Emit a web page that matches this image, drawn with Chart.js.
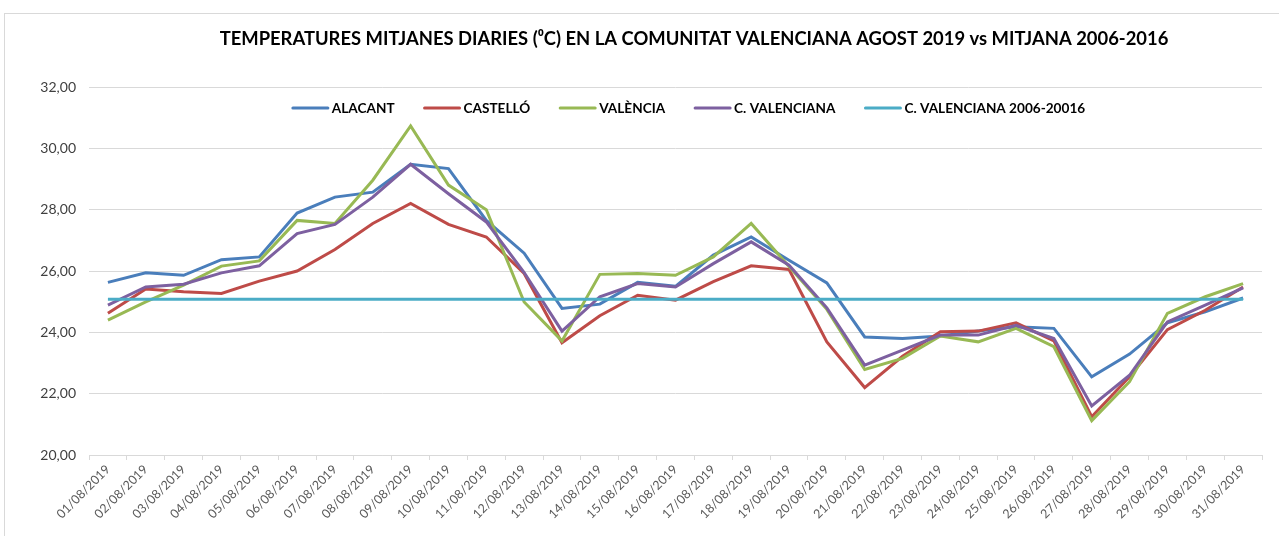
<!DOCTYPE html>
<html>
<head>
<meta charset="utf-8">
<script src="https://cdn.jsdelivr.net/npm/chart.js@4/dist/chart.umd.min.js"></script>
<style>
  html, body { margin: 0; padding: 0; background: #fff; overflow: hidden; width: 1279px; height: 536px; }
  #frame { position: absolute; left: 4px; top: 13px; width: 1378px; height: 560px; border: 1px solid #d9d9d9; background: #fff; }
  canvas { display: block; }
</style>
</head>
<body>
<div id="frame"><canvas id="chart" width="1378" height="560"></canvas></div>
<script>
const DAYS = [
  '01/08/2019', '02/08/2019', '03/08/2019', '04/08/2019', '05/08/2019', '06/08/2019', '07/08/2019', '08/08/2019',
  '09/08/2019', '10/08/2019', '11/08/2019', '12/08/2019', '13/08/2019', '14/08/2019', '15/08/2019', '16/08/2019',
  '17/08/2019', '18/08/2019', '19/08/2019', '20/08/2019', '21/08/2019', '22/08/2019', '23/08/2019', '24/08/2019',
  '25/08/2019', '26/08/2019', '27/08/2019', '28/08/2019', '29/08/2019', '30/08/2019', '31/08/2019',
];

const ALACANT = [25.63, 25.94, 25.86, 26.37, 26.46, 27.89, 28.41, 28.57, 29.48, 29.34, 27.65, 26.58, 24.78, 24.92, 25.63, 25.50,
  26.52, 27.11, 26.35, 25.61, 23.85, 23.80, 23.88, 24.04, 24.18, 24.13, 22.55, 23.29, 24.31, 24.67, 25.12];
const CASTELLO = [24.62, 25.41, 25.32, 25.27, 25.67, 26.00, 26.70, 27.55, 28.20, 27.52, 27.11, 25.92, 23.66, 24.54, 25.21, 25.05,
  25.65, 26.17, 26.05, 23.69, 22.20, 23.22, 24.02, 24.04, 24.31, 23.72, 21.25, 22.55, 24.09, 24.72, 25.48];
const VALENCIA = [24.40, 24.99, 25.54, 26.16, 26.33, 27.65, 27.55, 28.96, 30.73, 28.80, 28.00, 24.99, 23.72, 25.89, 25.92, 25.86,
  26.46, 27.55, 26.15, 24.75, 22.79, 23.15, 23.88, 23.69, 24.13, 23.53, 21.12, 22.39, 24.62, 25.16, 25.59];
const CVALENCIANA = [24.89, 25.48, 25.57, 25.94, 26.17, 27.22, 27.52, 28.41, 29.48, 28.52, 27.60, 25.95, 24.04, 25.16, 25.59, 25.48,
  26.24, 26.95, 26.19, 24.80, 22.93, 23.42, 23.91, 23.91, 24.23, 23.80, 21.60, 22.60, 24.34, 24.89, 25.45];
const MITJANA_2006_2016 = DAYS.map(() => 25.08);

const Y_MIN = 20;
const Y_MAX = 32;
const Y_STEP = 2;

const TITLE = 'TEMPERATURES MITJANES DIARIES (\u2070C) EN LA COMUNITAT VALENCIANA AGOST 2019 vs MITJANA 2006-2016';

const SERIES = [
  { label: 'ALACANT', data: ALACANT, color: '#4a7ebb' },
  { label: 'CASTELLÓ', data: CASTELLO, color: '#be4b48' },
  { label: 'VALÈNCIA', data: VALENCIA, color: '#98b954' },
  { label: 'C. VALENCIANA', data: CVALENCIANA, color: '#7d60a0' },
  { label: 'C. VALENCIANA 2006-20016', data: MITJANA_2006_2016, color: '#4bacc6' },
];

const FONT = 'Lato, Calibri, Carlito, sans-serif';

// titol centrat en tot el marc i llegenda dins l'area del grafic, com a l'Excel
const excelDecor = {
  id: 'excelDecor',
  afterDraw(chart) {
    const ctx = chart.ctx;
    ctx.save();
    ctx.fillStyle = '#000';
    ctx.textBaseline = 'middle';
    ctx.textAlign = 'center';
    ctx.font = 'bold 18.4px ' + FONT;
    ctx.fillText(TITLE, chart.width / 2, 25);

    const y = 94;
    const lineLen = 35;
    const gap = 4;
    const between = 30;
    ctx.font = 'bold 13.6px ' + FONT;
    const widths = chart.data.datasets.map((d) => lineLen + gap + ctx.measureText(d.label).width);
    const total = widths.reduce((a, b) => a + b, 0) + between * (widths.length - 1);
    let x = 684 - total / 2;
    chart.data.datasets.forEach((d, i) => {
      ctx.strokeStyle = d.borderColor;
      ctx.lineWidth = 3;
      ctx.lineCap = 'round';
      ctx.beginPath();
      ctx.moveTo(x, y);
      ctx.lineTo(x + lineLen, y);
      ctx.stroke();
      ctx.textAlign = 'left';
      ctx.fillText(d.label, x + lineLen + gap, y + 1);
      x += widths[i] + between;
    });
    ctx.restore();
  },
};

new Chart(document.getElementById('chart'), {
  type: 'line',
  data: {
    labels: DAYS,
    datasets: SERIES.map((s, i) => ({
      label: s.label,
      data: s.data,
      borderColor: s.color,
      backgroundColor: s.color,
      borderWidth: 3,
      pointRadius: 0,
      tension: 0,
      order: SERIES.length - i,
    })),
  },
  options: {
    responsive: false,
    animation: false,
    layout: { padding: { left: 0, right: 121, top: 73, bottom: 0 } },
    plugins: {
      legend: { display: false },
      tooltip: { enabled: false },
      title: { display: false },
    },
    scales: {
      x: {
        offset: true,
        grid: { offset: true, drawOnChartArea: false, drawTicks: true, tickLength: 5, color: '#d9d9d9' },
        border: { display: true, color: '#d9d9d9', width: 1 },
        ticks: {
          autoSkip: false,
          maxRotation: 45,
          minRotation: 45,
          color: '#595959',
          font: { family: FONT, size: 12.5 },
          padding: 2,
        },
        afterFit(scale) { scale.height = 119; },
      },
      y: {
        min: Y_MIN,
        max: Y_MAX,
        grid: { color: '#d9d9d9', lineWidth: 1, drawTicks: false },
        border: { display: false },
        ticks: {
          stepSize: Y_STEP,
          color: '#404040',
          font: { family: FONT, size: 14 },
          padding: 13,
          callback: (v) => v.toFixed(2).replace('.', ','),
        },
        afterFit(scale) { scale.width = 84; },
      },
    },
  },
  plugins: [excelDecor],
});
</script>
</body>
</html>
